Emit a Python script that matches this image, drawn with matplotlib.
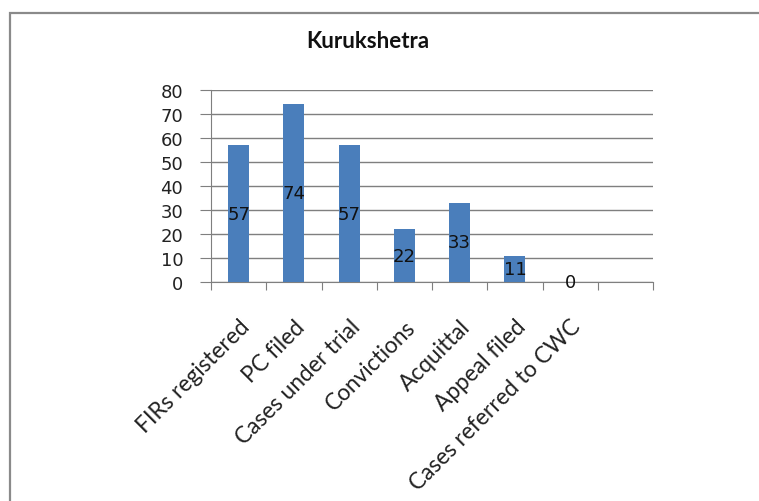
import matplotlib
matplotlib.use("Agg")
import matplotlib.pyplot as plt
from matplotlib.patches import Rectangle

categories = ["FIRs registered", "PC filed", "Cases under trial", "Convictions",
              "Acquittal", "Appeal filed", "Cases referred to CWC"]
values = [57, 74, 57, 22, 33, 11, 0]
y_ticks = [0, 10, 20, 30, 40, 50, 60, 70, 80]
title = "Kurukshetra"

W, H = 759, 502
fig = plt.figure(figsize=(W / 100, H / 100), dpi=100)
fig.patch.set_facecolor("white")

# chart frame
fig.patches.append(Rectangle((10 / W, -0.1), 1.2, 1 - 14 / H + 0.1,
                             transform=fig.transFigure, fill=False,
                             edgecolor="#8a8a8a", linewidth=1.6))

ax = fig.add_axes([211 / W, 1 - 283 / H, (653 - 211) / W, (283 - 91) / H])
n_slots = len(categories) + 1
x = [i + 0.5 for i in range(len(categories))]
bars = ax.bar(x, values, width=0.38, color="#4a7ebb", zorder=3)

ax.set_xlim(0, n_slots)
ax.set_ylim(0, 80)
ax.set_yticks(y_ticks)
ax.set_yticklabels([str(v) for v in y_ticks], fontsize=13, color="#222222")
ax.yaxis.grid(True, color="#7f7f7f", linewidth=1.0, zorder=0)
ax.set_axisbelow(True)

ax.set_xticks(range(n_slots + 1))
ax.set_xticklabels([])
ax.tick_params(axis="x", direction="out", length=6, color="#7f7f7f")
ax.tick_params(axis="y", direction="out", length=8, color="#7f7f7f", pad=12)
for s in ["top", "right"]:
    ax.spines[s].set_visible(False)
for s in ["left", "bottom"]:
    ax.spines[s].set_color("#7f7f7f")

for xi, v in zip(x, values):
    ax.text(xi, v / 2, str(v), ha="center", va="center", fontsize=13,
            color="#111111", zorder=4)

for xi, c in zip(x, categories):
    ax.text(xi + 0.0, -14, c, rotation=45, ha="right", va="top",
            rotation_mode="anchor", fontsize=16.3, family="Lato",
            color="#222222", transform=ax.transData, clip_on=False)

fig.text(368 / W, 1 - 42 / H, title, ha="center", va="center",
         fontsize=16, fontweight="bold", family="Lato", color="#111111")

fig.savefig("out.png", dpi=100)
